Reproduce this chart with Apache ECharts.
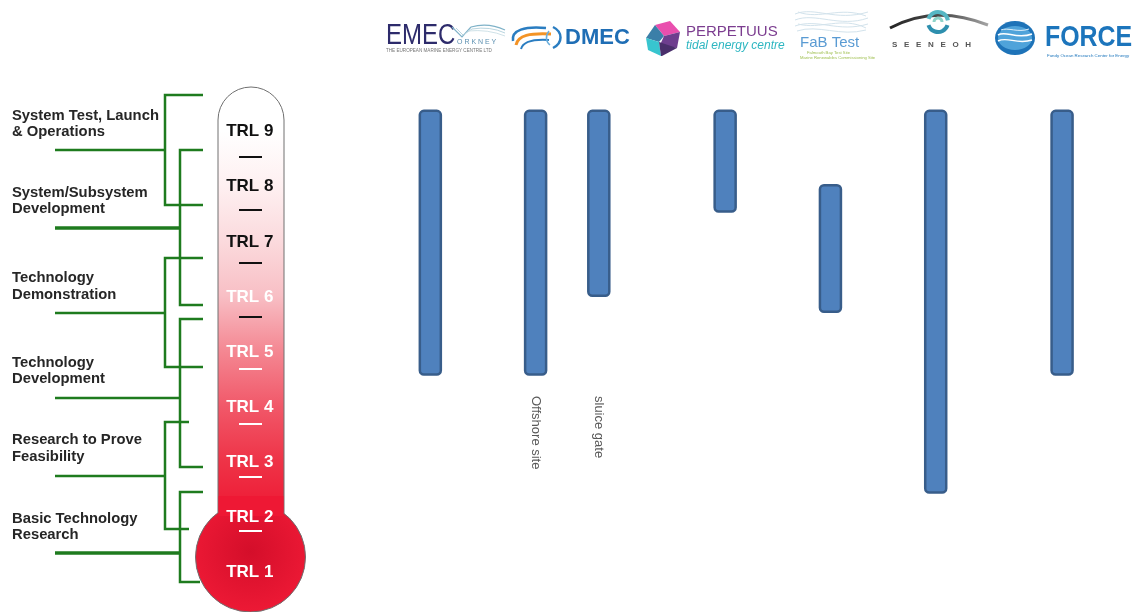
<!DOCTYPE html>
<html><head><meta charset="utf-8">
<script src="https://cdn.jsdelivr.net/npm/echarts@6/dist/echarts.min.js"></script>
<style>html,body{margin:0;padding:0;background:#fff}#c{width:1133px;height:612px}</style>
</head><body><div id="c"></div>
<script>
// ---- data ----
const sites = ['EMEC', 'DMEC', 'DMEC', 'PERPETUUS', 'FaB Test', 'SEENEOH', 'FORCE'];
const siteNotes = ['', 'Offshore site', 'sluice gate', '', '', '', ''];
const trlTop = [9.4, 9.4, 9.4, 9.4, 8.05, 9.4, 9.4];
const trlBottom = [4.57, 4.57, 6.0, 7.53, 5.71, 2.43, 4.57];
const trlLevels = [1, 2, 3, 4, 5, 6, 7, 8, 9];
const stages = ['System Test, Launch\n& Operations', 'System/Subsystem\nDevelopment', 'Technology\nDemonstration',
  'Technology\nDevelopment', 'Research to Prove\nFeasibility', 'Basic Technology\nResearch'];

// ---- layout (not data) ----
const columnSlot = [0, 5, 8, 14, 19, 24, 30];
const slotCount = 31;

const slots = [], noteBySlot = [], baseData = [], spanData = [];
for (let s = 0; s < slotCount; s++) { slots.push('s' + s); noteBySlot.push(''); baseData.push('-'); spanData.push('-'); }
columnSlot.forEach((s, i) => {
  noteBySlot[s] = siteNotes[i];
  baseData[s] = trlBottom[i];
  spanData[s] = +(trlTop[i] - trlBottom[i]).toFixed(3);
});

const green = '#1E7B1E';
const G = [];
function line(points, w) { G.push({ type: 'polyline', z: 1, shape: { points }, style: { stroke: green, lineWidth: w || 2.5, fill: null } }); }
// brackets
line([[203,95],[165,95],[165,205],[203,205]]); line([[55,150],[165,150]]);
line([[203,150],[180,150],[180,305],[203,305]]); line([[55,228],[180,228]], 3.5);
line([[203,258],[165,258],[165,367],[203,367]]); line([[55,313],[165,313]]);
line([[203,319],[180,319],[180,467],[203,467]]); line([[55,398],[180,398]]);
line([[189,422],[165,422],[165,529],[189,529]]); line([[55,476],[165,476]]);
line([[203,492],[180,492],[180,582],[200,582]]); line([[55,553],[180,553]], 3.5);

const stageY = [124, 201, 286.5, 371, 448.5, 527];
stages.forEach((t, i) => G.push({ type: 'text', z: 1, x: 12, y: stageY[i], style: {
  text: t, fill: '#262626', fontSize: 14.8, fontWeight: 'bold', fontFamily: 'Liberation Sans, Arial',
  lineHeight: 16.5, verticalAlign: 'middle', align: 'left' } }));

// thermometer
G.push({ type: 'rect', z: 1, shape: { x: 218, y: 87, width: 66, height: 440, r: [33, 33, 0, 0] },
  style: { stroke: '#707070', lineWidth: 1, fill: { type: 'linear', x: 0, y: 0, x2: 0, y2: 1, colorStops: [
    { offset: 0, color: '#FFFFFF' }, { offset: 0.1, color: '#FFFFFF' }, { offset: 0.224, color: '#FEF0F1' },
    { offset: 0.35, color: '#FBDADD' }, { offset: 0.474, color: '#F8BFC5' }, { offset: 0.6, color: '#F48792' },
    { offset: 0.725, color: '#F15869' }, { offset: 0.85, color: '#EE3347' }, { offset: 0.96, color: '#EE1A35' },
    { offset: 1, color: '#EE1834' } ] } } });
G.push({ type: 'circle', z: 1, shape: { cx: 250.5, cy: 557, r: 55 },
  style: { stroke: '#707070', lineWidth: 1, fill: { type: 'radial', x: 0.5, y: 0.45, r: 0.6, colorStops: [
    { offset: 0, color: '#D40E2A' }, { offset: 1, color: '#EF1A36' } ] } } });
G.push({ type: 'rect', z: 1, shape: { x: 218.5, y: 496, width: 65, height: 20 }, style: { fill: '#EE1834' } });
[157, 210, 263, 317, 369, 424, 477, 531].forEach((y, i) => G.push({ type: 'line', z: 2,
  shape: { x1: 239, y1: y, x2: 262, y2: y }, style: { stroke: i < 4 ? '#111' : '#fff', lineWidth: 2 } }));

// logos (approximate)
function txt(x, y, text, st, extra) { G.push(Object.assign({ type: 'text', z: 1, x, y, style: Object.assign({ text, verticalAlign: 'middle', align: 'left', fontFamily: 'Liberation Sans, Arial' }, st) }, extra || {})); }
function cub(x1, y1, c1x, c1y, c2x, c2y, x2, y2, st) { G.push({ type: 'bezierCurve', z: 1, shape: { x1, y1, cpx1: c1x, cpy1: c1y, cpx2: c2x, cpy2: c2y, x2, y2 }, style: Object.assign({ fill: null }, st) }); }
function quad(x1, y1, cx, cy, x2, y2, st) { G.push({ type: 'bezierCurve', z: 1, shape: { x1, y1, cpx1: cx, cpy1: cy, x2, y2 }, style: Object.assign({ fill: null }, st) }); }
function pl(points, st) { G.push({ type: 'polyline', z: 1, shape: { points }, style: Object.assign({ fill: null }, st) }); }
function arc(cx, cy, r, a0, a1, st) { G.push({ type: 'arc', z: 1, shape: { cx, cy, r, startAngle: a0, endAngle: a1, clockwise: true }, style: Object.assign({ fill: null }, st) }); }
// EMEC
txt(386, 36, 'EMEC', { fill: '#2D2B6B', fontSize: 30 }, { scaleX: 0.8 });
pl([[452,27],[462,37],[471,27]], { stroke: '#7FB2C8', lineWidth: 1.2 });
quad(471, 27, 488, 22, 505, 30, { stroke: '#7FB2C8', lineWidth: 1.2 });
pl([[456,28],[463,35],[472,29]], { stroke: '#B9D5DF', lineWidth: 1 });
quad(472, 29, 490, 26, 505, 33, { stroke: '#B9D5DF', lineWidth: 1 });
quad(468, 31, 488, 29, 505, 36, { stroke: '#CFE2E8', lineWidth: 1 });
txt(457, 42, 'O R K N E Y', { fill: '#5B8FB0', fontSize: 7 });
txt(386, 51, 'THE EUROPEAN MARINE ENERGY CENTRE LTD', { fill: '#777', fontSize: 4.6 });
// DMEC
cub(513, 41, 511, 30, 525, 26, 546, 28, { stroke: '#2A7DC1', lineWidth: 2.5 });
cub(516, 45, 518, 35, 530, 33, 551, 34, { stroke: '#F39325', lineWidth: 3 });
cub(521, 49, 523, 42, 533, 39, 549, 40, { stroke: '#2A7DC1', lineWidth: 2 });
cub(553, 27, 563, 32, 563, 43, 553, 48, { stroke: '#2A7DC1', lineWidth: 2.5 });
cub(549, 31, 545, 36, 546, 42, 550, 45, { stroke: '#6AAEDC', lineWidth: 1.5 });
txt(565, 38, 'DMEC', { fill: '#1F6EB5', fontSize: 22, fontWeight: 'bold' });
// PERPETUUS
G.push({ type: 'polygon', z: 1, shape: { points: [[655,25],[670,21],[680,32],[664,36]] }, style: { fill: '#E94FAE' } });
G.push({ type: 'polygon', z: 1, shape: { points: [[646,38],[655,25],[664,36],[659,42]] }, style: { fill: '#3B7FA8' } });
G.push({ type: 'polygon', z: 1, shape: { points: [[664,36],[680,32],[677,48],[660,45]] }, style: { fill: '#6E3E8E' } });
G.push({ type: 'polygon', z: 1, shape: { points: [[646,38],[659,42],[661,56],[648,50]] }, style: { fill: '#38C5CF' } });
G.push({ type: 'polygon', z: 1, shape: { points: [[659,42],[677,48],[662,56],[661,56]] }, style: { fill: '#4A2F6B' } });
txt(686, 32, 'PERPETUUS', { fill: '#7B3C8F', fontSize: 15 });
txt(686, 46, 'tidal energy centre', { fill: '#2DB6C1', fontSize: 12, fontStyle: 'italic' });
// FaB Test
[[795,14,815,6,835,22,868,12], [795,20,815,12,840,28,868,18], [795,26,818,18,838,33,868,24],
 [797,31,818,24,840,37,866,30], [798,12,820,20,840,6,866,16], [798,24,820,30,842,16,866,28]].forEach(c =>
  cub(c[0], c[1], c[2], c[3], c[4], c[5], c[6], c[7], { stroke: '#D3E3EC', lineWidth: 1 }));
txt(800, 43, 'FaB Test', { fill: '#5A9BD3', fontSize: 15 });
txt(807, 53, 'Falmouth Bay Test Site', { fill: '#9DBE4C', fontSize: 4.2 });
txt(800, 57.5, 'Marine Renewables Commissioning Site', { fill: '#9DBE4C', fontSize: 4.2 });
// SEENEOH
quad(890, 28, 935, 4, 988, 25, { stroke: { type: 'linear', x: 0, y: 0, x2: 1, y2: 0, colorStops: [
  { offset: 0, color: '#222' }, { offset: 0.6, color: '#555' }, { offset: 1, color: '#AAA' } ] }, lineWidth: 3 });
arc(938, 22, 10, Math.PI * 1.1, Math.PI * 1.95, { stroke: '#56B7C4', lineWidth: 4 });
arc(938, 22, 10, Math.PI * 0.1, Math.PI * 0.9, { stroke: '#2E8FAE', lineWidth: 4 });
arc(938, 22, 4, Math.PI * 1.0, Math.PI * 2.0, { stroke: '#8ED3C9', lineWidth: 3 });
txt(892, 45, 'S   E   E   N   E   O   H', { fill: '#555', fontSize: 8, fontWeight: 'bold' });
// FORCE
G.push({ type: 'ellipse', z: 1, shape: { cx: 1015, cy: 38, rx: 20, ry: 17 }, style: { fill: '#1E73B8' } });
G.push({ type: 'ellipse', z: 1, shape: { cx: 1015, cy: 38, rx: 17, ry: 12 }, style: { fill: '#4FA3DA' } });
cub(998, 35, 1006, 30, 1016, 40, 1032, 34, { stroke: '#fff', lineWidth: 1.5 });
cub(998, 41, 1007, 36, 1017, 45, 1032, 40, { stroke: '#fff', lineWidth: 1.5 });
cub(1001, 30, 1008, 27, 1018, 33, 1029, 29, { stroke: '#DDEFFA', lineWidth: 1 });
txt(1045, 38, 'FORCE', { fill: '#1C75BC', fontSize: 30, fontWeight: 'bold' }, { scaleX: 0.83 });
txt(1047, 56, 'Fundy Ocean Research Center for Energy', { fill: '#1C75BC', fontSize: 4.4 });

const chart = echarts.init(document.getElementById('c'), null, { renderer: 'canvas' });
chart.setOption({
  animation: false,
  backgroundColor: '#fff',
  grid: { left: 419.8, right: 60.4, top: 104.1, bottom: 11.8, containLabel: false, outerBoundsMode: 'none' },
  xAxis: {
    type: 'category', data: slots, boundaryGap: true, offset: -204.2,
    axisLine: { show: false }, axisTick: { show: false }, splitLine: { show: false },
    axisLabel: { interval: 0, rotate: -90, margin: 0, fontSize: 13, color: '#595959',
      fontFamily: 'Liberation Sans, Arial', formatter: (v, i) => noteBySlot[i] }
  },
  yAxis: {
    type: 'value', min: 0.5, max: 9.5, minInterval: 1, maxInterval: 1, splitNumber: 9, z: 5,
    axisLine: { show: false }, axisTick: { show: false }, splitLine: { show: false },
    axisLabel: { margin: 170, align: 'center', fontSize: 17, fontWeight: 'bold', fontFamily: 'Liberation Sans, Arial',
      formatter: v => trlLevels.indexOf(v) >= 0 ? 'TRL ' + v : '',
      color: v => Number(v) >= 7 ? '#111111' : '#ffffff' }
  },
  graphic: { elements: G },
  series: [
    { type: 'bar', stack: 'trl', data: baseData, barWidth: 23.5, itemStyle: { color: 'transparent' }, silent: true },
    { type: 'bar', stack: 'trl', name: 'TRL range', data: spanData, barWidth: 23.5,
      itemStyle: { color: '#4F81BD', borderColor: '#385D8A', borderWidth: 2.5, borderRadius: 4 } }
  ]
});
</script></body></html>
